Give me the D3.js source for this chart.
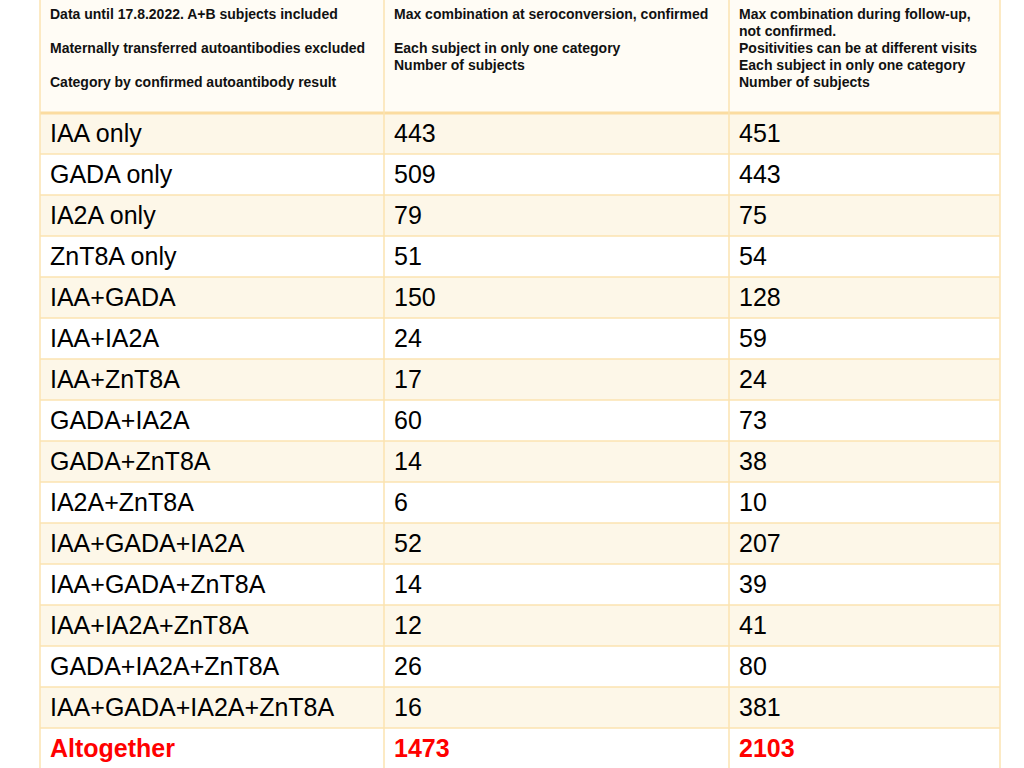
<!DOCTYPE html>
<html>
<head>
<meta charset="utf-8">
<script src="https://cdn.jsdelivr.net/npm/d3@7"></script>
<style>
  body { margin: 0; background: #fff; }
  text { font-family: "Liberation Sans", Arial, sans-serif; }
</style>
</head>
<body>
<div id="chart"></div>
<script>
// table contents
const categories = ["IAA only", "GADA only", "IA2A only", "ZnT8A only", "IAA+GADA", "IAA+IA2A",
  "IAA+ZnT8A", "GADA+IA2A", "GADA+ZnT8A", "IA2A+ZnT8A", "IAA+GADA+IA2A", "IAA+GADA+ZnT8A",
  "IAA+IA2A+ZnT8A", "GADA+IA2A+ZnT8A", "IAA+GADA+IA2A+ZnT8A", "Altogether"];
const seroconversion = [443, 509, 79, 51, 150, 24, 17, 60, 14, 6, 52, 14, 12, 26, 16, 1473];
const followUp = [451, 443, 75, 54, 128, 59, 24, 73, 38, 10, 207, 39, 41, 80, 381, 2103];
const headers = [
  ["Data until 17.8.2022. A+B subjects included", "", "Maternally transferred autoantibodies excluded", "", "Category by confirmed autoantibody result"],
  ["Max combination at seroconversion, confirmed", "", "Each subject in only one category", "Number of subjects"],
  ["Max combination during follow-up,", "not confirmed.", "Positivities can be at different visits", "Each subject in only one category", "Number of subjects"]
];

const width = 1024, height = 768;
const colEdges = [40, 384, 729, 1000];
const headerH = 113;
const border = "#fbe3b0";

const svg = d3.select("#chart").append("svg")
  .attr("width", width).attr("height", height);

const y = d3.scaleBand()
  .domain(d3.range(categories.length))
  .range([headerH, headerH + 41 * categories.length]);

// header background
svg.append("rect").attr("x", colEdges[0]).attr("y", 0)
  .attr("width", colEdges[3] - colEdges[0]).attr("height", headerH)
  .attr("fill", "#fffcf5");

// row backgrounds
svg.selectAll(".rowbg").data(categories).enter().append("rect")
  .attr("x", colEdges[0]).attr("y", (d, i) => y(i))
  .attr("width", colEdges[3] - colEdges[0]).attr("height", y.bandwidth())
  .attr("fill", (d, i) => i % 2 === 0 ? "#fdf7e8" : "#ffffff");

// horizontal lines
svg.selectAll(".hline").data(d3.range(1, categories.length + 1)).enter().append("line")
  .attr("x1", colEdges[0]).attr("x2", colEdges[3])
  .attr("y1", i => y(i) || y.range()[1]).attr("y2", i => y(i) || y.range()[1])
  .attr("stroke", border).attr("stroke-width", 1.5);
svg.append("line").attr("x1", colEdges[0]).attr("x2", colEdges[3])
  .attr("y1", headerH).attr("y2", headerH)
  .attr("stroke", "#fbdca0").attr("stroke-width", 3);

// vertical lines
svg.selectAll(".vline").data(colEdges).enter().append("line")
  .attr("x1", d => d).attr("x2", d => d).attr("y1", 0).attr("y2", height)
  .attr("stroke", border).attr("stroke-width", 1.5);

// header text
headers.forEach((lines, c) => {
  const t = svg.append("text").attr("font-size", 14).attr("font-weight", "bold").attr("fill", "#111")
    .attr("textLength", null);
  lines.forEach((l, k) => {
    t.append("tspan").attr("x", colEdges[c] + 10).attr("y", 19 + k * 17).text(l);
  });
});

// body cells
const cols = [categories, seroconversion, followUp];
cols.forEach((vals, c) => {
  svg.selectAll(".c" + c).data(vals).enter().append("text")
    .attr("x", colEdges[c] + 10)
    .attr("y", (d, i) => y(i) + y.bandwidth() / 2 + 2)
    .attr("dominant-baseline", "middle")
    .attr("font-size", 25)
    .attr("font-weight", (d, i) => i === vals.length - 1 ? "bold" : "normal")
    .attr("fill", (d, i) => i === vals.length - 1 ? "#ff0000" : "#000")
    .text(d => d);
});
</script>
</body>
</html>
